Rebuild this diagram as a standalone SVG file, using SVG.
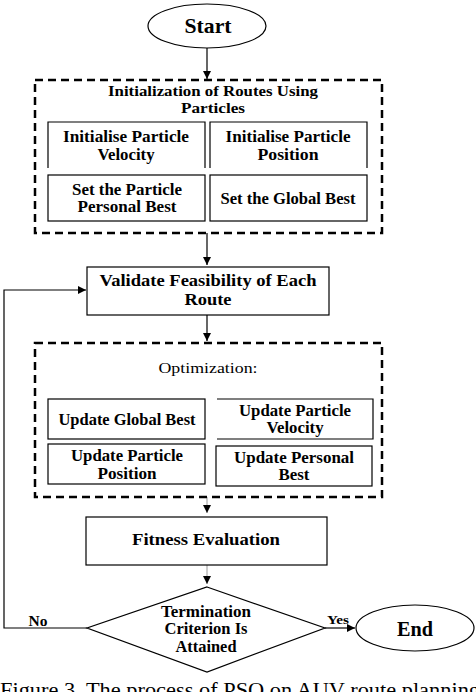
<svg xmlns="http://www.w3.org/2000/svg" width="476" height="692" viewBox="0 0 476 692">
<style>
.t{font-family:"Liberation Serif","DejaVu Serif",serif;fill:#000;text-anchor:middle;dominant-baseline:central}
.b{font-weight:bold}
.box{fill:#fff;stroke:#000;stroke-width:1.2}
.open{fill:none;stroke:#000;stroke-width:1.2}
.dash{fill:none;stroke:#000;stroke-width:2.5;stroke-dasharray:8 5}
.ln{fill:none;stroke:#000;stroke-width:1.2}
.lg{fill:none;stroke:#999;stroke-width:1}
</style>
<defs>
<marker id="ah" viewBox="0 0 10 10" refX="10" refY="5" markerWidth="8" markerHeight="8" markerUnits="userSpaceOnUse" orient="auto">
<path d="M0,0 L10,5 L0,10 z" fill="#000"/>
</marker>
</defs>
<rect width="476" height="692" fill="#fff"/>
<g id="connectors">
<path class="ln" d="M207,48 V79" marker-end="url(#ah)"/>
<path class="ln" d="M207,233 V265" marker-end="url(#ah)"/>
<path class="ln" d="M207,315 V341" marker-end="url(#ah)"/>
<path class="lg" d="M207,497 V513" marker-end="url(#ah)"/>
<path class="lg" d="M207,565 V584" marker-end="url(#ah)"/>
<path class="ln" d="M87,628 H4 V290 H86" marker-end="url(#ah)"/>
<path class="ln" d="M325,628 H355" marker-end="url(#ah)"/>
<text class="t b" x="38" y="621" font-size="14" textLength="19" lengthAdjust="spacingAndGlyphs">No</text>
<text class="t b" x="338" y="620" font-size="12" textLength="22" lengthAdjust="spacingAndGlyphs">Yes</text>
</g>
<g id="start">
<ellipse cx="207" cy="26" rx="59" ry="22" class="box"/>
<text class="t b" x="208" y="25" font-size="22" textLength="47" lengthAdjust="spacingAndGlyphs">Start</text>
</g>
<g id="init-group">
<rect x="35" y="80" width="347" height="153" class="dash"/>
<text class="t b" x="213" y="91" font-size="15" textLength="210" lengthAdjust="spacingAndGlyphs">Initialization of Routes Using</text>
<text class="t b" x="213" y="108" font-size="15" textLength="64" lengthAdjust="spacingAndGlyphs">Particles</text>
</g>
<g id="init-velocity">
<path class="open" d="M48,168 V122 H205 V168"/>
<text class="t b" x="126" y="136" font-size="16" textLength="126" lengthAdjust="spacingAndGlyphs">Initialise Particle</text>
<text class="t b" x="126" y="154" font-size="16" textLength="57" lengthAdjust="spacingAndGlyphs">Velocity</text>
</g>
<g id="init-position">
<path class="open" d="M210,168 V122 H367 V168"/>
<text class="t b" x="288" y="136" font-size="16" textLength="125" lengthAdjust="spacingAndGlyphs">Initialise Particle</text>
<text class="t b" x="288" y="154" font-size="16" textLength="61" lengthAdjust="spacingAndGlyphs">Position</text>
</g>
<g id="set-personal">
<rect x="48" y="175" width="157" height="46" class="box"/>
<text class="t b" x="127" y="189" font-size="16" textLength="110" lengthAdjust="spacingAndGlyphs">Set the Particle</text>
<text class="t b" x="127" y="206" font-size="16" textLength="99" lengthAdjust="spacingAndGlyphs">Personal Best</text>
</g>
<g id="set-global">
<rect x="210" y="175" width="157" height="46" class="box"/>
<text class="t b" x="288" y="198" font-size="16" textLength="135" lengthAdjust="spacingAndGlyphs">Set the Global Best</text>
</g>
<g id="validate">
<rect x="87" y="267" width="242" height="48" class="box"/>
<text class="t b" x="208" y="280" font-size="17" textLength="217" lengthAdjust="spacingAndGlyphs">Validate Feasibility of Each</text>
<text class="t b" x="208" y="299" font-size="17" textLength="47" lengthAdjust="spacingAndGlyphs">Route</text>
</g>
<g id="opt-group">
<rect x="35" y="343" width="347" height="154" class="dash"/>
<text class="t" x="208" y="368" font-size="15" textLength="99" lengthAdjust="spacingAndGlyphs">Optimization:</text>
</g>
<g id="upd-global">
<rect x="48" y="399" width="157" height="40" class="box"/>
<text class="t b" x="127" y="419" font-size="16" textLength="137" lengthAdjust="spacingAndGlyphs">Update Global Best</text>
</g>
<g id="upd-velocity">
<path class="open" d="M217,399 H373 V439 H217"/>
<text class="t b" x="295" y="410" font-size="16" textLength="112" lengthAdjust="spacingAndGlyphs">Update Particle</text>
<text class="t b" x="295" y="427" font-size="16" textLength="57" lengthAdjust="spacingAndGlyphs">Velocity</text>
</g>
<g id="upd-position">
<rect x="48" y="444" width="157" height="40" class="box"/>
<text class="t b" x="127" y="455" font-size="16" textLength="112" lengthAdjust="spacingAndGlyphs">Update Particle</text>
<text class="t b" x="127" y="473" font-size="16" textLength="59" lengthAdjust="spacingAndGlyphs">Position</text>
</g>
<g id="upd-personal">
<rect x="216" y="446" width="156" height="40" class="box"/>
<text class="t b" x="294" y="457" font-size="16" textLength="120" lengthAdjust="spacingAndGlyphs">Update Personal</text>
<text class="t b" x="294" y="474" font-size="16" textLength="31" lengthAdjust="spacingAndGlyphs">Best</text>
</g>
<g id="fitness">
<rect x="86" y="517" width="241" height="48" class="box"/>
<text class="t b" x="206" y="539" font-size="17" textLength="148" lengthAdjust="spacingAndGlyphs">Fitness Evaluation</text>
</g>
<g id="termination">
<path class="box" d="M207,587 L325,628 L207,672 L87,628 Z"/>
<text class="t b" x="206" y="611" font-size="16" textLength="90" lengthAdjust="spacingAndGlyphs">Termination</text>
<text class="t b" x="206" y="628" font-size="16" textLength="83" lengthAdjust="spacingAndGlyphs">Criterion Is</text>
<text class="t b" x="206" y="646" font-size="16" textLength="61" lengthAdjust="spacingAndGlyphs">Attained</text>
</g>
<g id="end">
<ellipse cx="415" cy="628" rx="59" ry="23" class="box"/>
<text class="t b" x="415" y="628" font-size="22" textLength="36" lengthAdjust="spacingAndGlyphs">End</text>
</g>
<text x="0" y="697" font-family="Liberation Serif,serif" font-size="20" textLength="480" lengthAdjust="spacingAndGlyphs">Figure 3. The process of PSO on AUV route planning</text>
</svg>
